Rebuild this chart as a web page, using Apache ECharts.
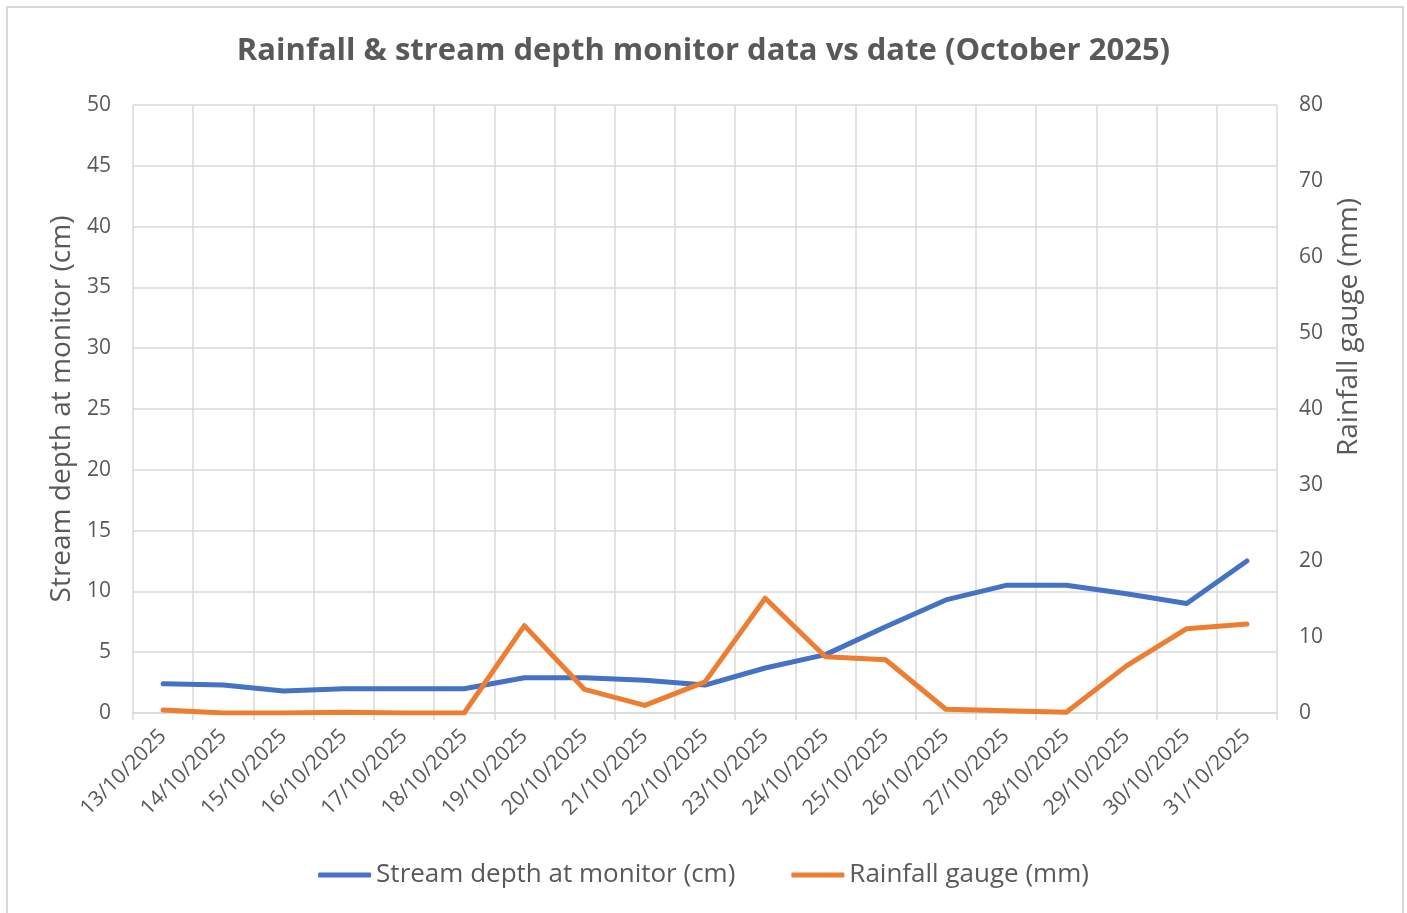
<!DOCTYPE html>
<html>
<head>
<meta charset="utf-8">
<script src="https://cdn.jsdelivr.net/npm/echarts@6/dist/echarts.min.js"></script>
<style>
html,body{margin:0;padding:0;background:#fff;}
#chart{width:1407px;height:913px;}
</style>
</head>
<body>
<div id="chart"></div>
<script>
const categories = ["13/10/2025","14/10/2025","15/10/2025","16/10/2025","17/10/2025","18/10/2025","19/10/2025","20/10/2025","21/10/2025","22/10/2025","23/10/2025","24/10/2025","25/10/2025","26/10/2025","27/10/2025","28/10/2025","29/10/2025","30/10/2025","31/10/2025"];
const streamDepth = [2.4, 2.3, 1.8, 2.0, 2.0, 2.0, 2.9, 2.9, 2.7, 2.3, 3.7, 4.8, 7.1, 9.3, 10.5, 10.5, 9.8, 9.0, 12.5];
const rainfall = [0.4, 0.0, 0.0, 0.1, 0.0, 0.0, 11.5, 3.1, 1.0, 4.1, 15.1, 7.4, 7.0, 0.5, 0.3, 0.1, 6.2, 11.1, 11.7];
const seriesNames = ["Stream depth at monitor (cm)", "Rainfall gauge (mm)"];

const TXT = '#595959';
const GRID = '#d9d9d9';
const FONT = '"Open Sans", sans-serif';

const chart = echarts.init(document.getElementById('chart'), null, {renderer: 'canvas'});
chart.setOption({
  backgroundColor: '#fff',
  animation: false,
  textStyle: {fontFamily: FONT, color: TXT},
  title: {
    text: 'Rainfall & stream depth monitor data vs date (October 2025)',
    left: 'center', top: 31,
    textStyle: {fontFamily: FONT, fontWeight: 'bold', fontSize: 31, color: TXT}
  },
  graphic: [{
    type: 'rect', silent: true, z: -1,
    shape: {x: 7, y: 7, width: 1396, height: 920},
    style: {fill: 'none', stroke: GRID, lineWidth: 2}
  }],
  legend: {
    bottom: 20, left: 'center',
    itemWidth: 53, itemHeight: 5, itemGap: 56,
    icon: 'roundRect',
    textStyle: {fontFamily: FONT, fontSize: 26, color: TXT},
    data: seriesNames
  },
  grid: {left: 133, right: 130, top: 105, bottom: 200, containLabel: false},
  xAxis: {
    type: 'category', data: categories, boundaryGap: true,
    axisLine: {show: true, lineStyle: {color: GRID, width: 1.5}},
    axisTick: {show: true, length: 7, lineStyle: {color: GRID, width: 1.5}},
    splitLine: {show: true, lineStyle: {color: GRID, width: 1.5}},
    axisLabel: {rotate: 45, fontSize: 21, color: TXT, fontFamily: FONT, margin: 20, interval: 0}
  },
  yAxis: [{
    type: 'value', min: 0, max: 50, interval: 5, position: 'left',
    name: 'Stream depth at monitor (cm)', nameLocation: 'middle', nameGap: 56,
    nameTextStyle: {fontSize: 28, color: TXT, fontFamily: FONT},
    axisLine: {show: false}, axisTick: {show: false},
    splitLine: {show: true, lineStyle: {color: GRID, width: 1.5}},
    axisLabel: {fontSize: 21, color: TXT, fontFamily: FONT, margin: 22}
  }, {
    type: 'value', min: 0, max: 80, interval: 10, position: 'right',
    name: 'Rainfall gauge (mm)', nameLocation: 'middle', nameGap: 58,
    nameTextStyle: {fontSize: 28, color: TXT, fontFamily: FONT, padding: [0, 0, 0, 164]},
    axisLine: {show: false}, axisTick: {show: false},
    splitLine: {show: false},
    axisLabel: {fontSize: 21, color: TXT, fontFamily: FONT, margin: 22}
  }],
  series: [{
    name: seriesNames[0], type: 'line', yAxisIndex: 0, data: streamDepth,
    showSymbol: false, symbol: 'none',
    lineStyle: {color: '#4472C4', width: 5, cap: 'round', join: 'round'},
    itemStyle: {color: '#4472C4'}
  }, {
    name: seriesNames[1], type: 'line', yAxisIndex: 1, data: rainfall,
    showSymbol: false, symbol: 'none',
    lineStyle: {color: '#ED7D31', width: 5, cap: 'round', join: 'round'},
    itemStyle: {color: '#ED7D31'}
  }]
});
</script>
</body>
</html>
